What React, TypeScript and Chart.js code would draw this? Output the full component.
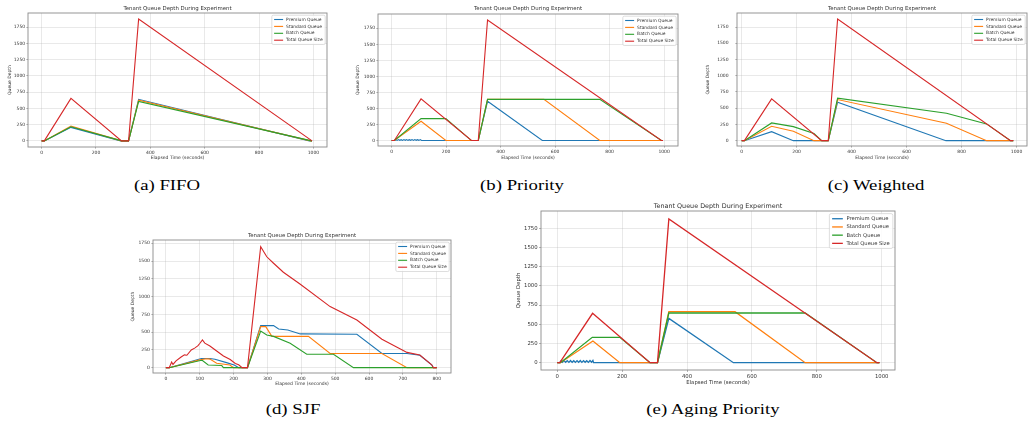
import React, { useEffect, useRef } from 'react';
import { Chart, registerables } from 'chart.js';

Chart.register(...registerables);

type Pt = [number, number];

// Shared labels and ticks
const seriesNames = ['Premium Queue', 'Standard Queue', 'Batch Queue', 'Total Queue Size'];
const seriesColors = ['#1f77b4', '#ff7f0e', '#2ca02c', '#d62728'];
const chartTitle = 'Tenant Queue Depth During Experiment';
const xAxisLabel = 'Elapsed Time (seconds)';
const yAxisLabel = 'Queue Depth';
const timeTicks1000 = [0, 200, 400, 600, 800, 1000];
const timeTicks800 = [0, 100, 200, 300, 400, 500, 600, 700, 800];
const depthTicks = [0, 250, 500, 750, 1000, 1250, 1500, 1750];

// (a) FIFO — [elapsed seconds, queue depth]
const fifoPremium: Pt[] = [[0, 0], [10, 0], [108, 208], [291, 0], [320, 0], [357, 640], [985, 0], [995, 0]];
const fifoStandard: Pt[] = [[0, 0], [10, 0], [108, 228], [294, 0], [320, 0], [357, 628], [990, 0], [995, 0]];
const fifoBatch: Pt[] = [[0, 0], [10, 0], [108, 218], [295, 0], [320, 0], [357, 608], [993, 0], [995, 0]];
const fifoTotal: Pt[] = [[0, 0], [10, 0], [108, 654], [294, 0], [320, 0], [357, 1876], [995, 0]];

// (b) Priority
const prioPremium: Pt[] = [
  [0, 0], [12, 0], [16, 15], [20, 3], [25, 16], [30, 4], [35, 14], [40, 2], [45, 15], [50, 4],
  [55, 16], [60, 3], [65, 14], [70, 4], [75, 15], [80, 3], [85, 16], [90, 4], [95, 14], [100, 3],
  [105, 15], [110, 0], [318, 0], [352, 612], [553, 0], [996, 0],
];
const prioStandard: Pt[] = [[0, 0], [10, 0], [108, 300], [199, 0], [318, 0], [352, 642], [559, 642], [764, 0], [996, 0]];
const prioBatch: Pt[] = [[0, 0], [10, 0], [108, 342], [199, 342], [293, 0], [318, 0], [352, 642], [764, 642], [990, 0], [996, 0]];
const prioTotal: Pt[] = [[0, 0], [10, 0], [108, 649], [293, 0], [318, 0], [352, 1880], [990, 0], [996, 0]];

// (c) Weighted
const wfqPremium: Pt[] = [[0, 0], [10, 0], [109, 139], [188, 0], [315, 0], [349, 592], [743, 0], [988, 0]];
const wfqStandard: Pt[] = [[0, 0], [10, 0], [109, 221], [188, 144], [263, 0], [315, 0], [349, 633], [745, 268], [891, 0], [988, 0]];
const wfqBatch: Pt[] = [[0, 0], [10, 0], [109, 273], [188, 216], [263, 110], [291, 0], [315, 0], [349, 654], [745, 422], [891, 258], [978, 0], [988, 0]];
const wfqTotal: Pt[] = [[0, 0], [10, 0], [109, 643], [291, 0], [315, 0], [349, 1873], [978, 0], [988, 0]];

// (d) SJF
const sjfPremium: Pt[] = [
  [0, 0], [10, 0], [105, 130], [130, 130], [145, 118], [179, 71], [202, 38], [215, 0], [241, 0],
  [280, 592], [318, 592], [333, 545], [360, 530], [397, 475], [564, 470], [638, 200], [712, 200],
  [750, 175], [785, 40], [790, 0], [800, 0],
];
const sjfStandard: Pt[] = [
  [0, 0], [10, 0], [100, 110], [120, 125], [130, 120], [150, 61], [189, 38], [200, 0], [241, 0],
  [280, 577], [295, 577], [313, 440], [421, 440], [485, 200], [638, 200], [712, 0], [800, 0],
];
const sjfBatch: Pt[] = [
  [0, 0], [10, 0], [105, 105], [108, 100], [125, 38], [165, 30], [170, 0], [241, 0],
  [280, 516], [298, 460], [318, 440], [367, 343], [416, 188], [495, 188], [554, 0], [800, 0],
];
const sjfTotal: Pt[] = [
  [0, 0], [10, 0], [17, 80], [21, 45], [30, 95], [45, 150], [55, 180], [62, 175], [75, 250], [85, 275],
  [95, 310], [100, 340], [108, 391], [115, 345], [130, 305], [150, 235], [170, 165], [190, 115], [205, 60],
  [215, 40], [225, 0], [241, 0], [280, 1703], [298, 1560], [318, 1469], [347, 1342], [397, 1173],
  [485, 859], [564, 670], [638, 400], [712, 215], [750, 178], [785, 40], [790, 0], [800, 0],
];

// (e) Aging Priority
const agePremium: Pt[] = [
  [0, 0], [8, 0], [12, 25], [16, 5], [21, 28], [26, 5], [31, 27], [36, 4], [41, 28], [46, 5],
  [51, 26], [56, 4], [61, 27], [66, 5], [71, 28], [76, 4], [81, 27], [86, 5], [91, 26], [96, 4],
  [101, 28], [106, 6], [110, 30], [112, 0], [309, 0], [344, 577], [543, 0], [993, 0],
];
const ageStandard: Pt[] = [[0, 0], [10, 0], [110, 282], [193, 0], [309, 0], [344, 664], [548, 664], [764, 0], [993, 0]];
const ageBatch: Pt[] = [[0, 0], [10, 0], [108, 330], [193, 330], [286, 0], [309, 0], [344, 647], [764, 647], [985, 0], [993, 0]];
const ageTotal: Pt[] = [[0, 0], [8, 0], [109, 643], [286, 0], [309, 0], [344, 1871], [985, 0], [993, 0]];

interface Panel {
  key: string;
  caption: string;
  captionX: number;
  captionBase: number;
  area: { l: number; t: number; r: number; b: number };
  s: number;
  xRange: [number, number];
  yRange: [number, number];
  xTicks: number[];
  series: Pt[][];
  yTitleOff: number;
  tickGap: number;
  titleOff: number;
  xTitleOff: number;
}

const panels: Panel[] = [
  {
    key: 'a', caption: '(a) FIFO', captionX: 167, captionBase: 190.5,
    area: { l: 28, t: 13, r: 327, b: 147 }, s: 1, xRange: [-50, 1050], yRange: [-94, 1969],
    xTicks: timeTicks1000, series: [fifoPremium, fifoStandard, fifoBatch, fifoTotal],
    yTitleOff: 18, tickGap: 1.2, titleOff: 4.7, xTitleOff: 11.3,
  },
  {
    key: 'b', caption: '(b) Priority', captionX: 522, captionBase: 190.5,
    area: { l: 378, t: 14, r: 678, b: 146 }, s: 1, xRange: [-50, 1051], yRange: [-85, 1973],
    xTicks: timeTicks1000, series: [prioPremium, prioStandard, prioBatch, prioTotal],
    yTitleOff: 20, tickGap: 1.2, titleOff: 5.7, xTitleOff: 12.3,
  },
  {
    key: 'c', caption: '(c) Weighted', captionX: 876, captionBase: 190.5,
    area: { l: 737, t: 13, r: 1027, b: 146 }, s: 1, xRange: [-17, 1038], yRange: [-82, 1966],
    xTicks: timeTicks1000, series: [wfqPremium, wfqStandard, wfqBatch, wfqTotal],
    yTitleOff: 28.7, tickGap: 6.8, titleOff: 4.7, xTitleOff: 12.3,
  },
  {
    key: 'd', caption: '(d) SJF', captionX: 293, captionBase: 415,
    area: { l: 153, t: 240, r: 451, b: 373 }, s: 1, xRange: [-38, 842], yRange: [-75, 1796],
    xTicks: timeTicks800, series: [sjfPremium, sjfStandard, sjfBatch, sjfTotal],
    yTitleOff: 20.3, tickGap: 1.5, titleOff: 4.3, xTitleOff: 11,
  },
  {
    key: 'e', caption: '(e) Aging Priority', captionX: 713, captionBase: 415,
    area: { l: 541, t: 211, r: 895, b: 370 }, s: 1.19, xRange: [-50, 1041], yRange: [-95, 1975],
    xTicks: timeTicks1000, series: [agePremium, ageStandard, ageBatch, ageTotal],
    yTitleOff: 22.7, tickGap: 1.2, titleOff: 5, xTitleOff: 13,
  },
];

const FONT = 'DejaVu Sans';
const TEXT = '#333333';
const SPINE = '#8a8a8a';

function QueueChart({ p }: { p: Panel }) {
  const ref = useRef<HTMLCanvasElement>(null);
  const s = p.s;
  const PL = Math.round(40 * s);
  const PR = Math.round(10 * s);
  const PT = Math.round(12 * s);
  const PB = Math.round(18 * s);
  const w = p.area.r - p.area.l;
  const h = p.area.b - p.area.t;
  const cw = w + PL + PR;
  const ch = h + PT + PB;

  useEffect(() => {
    if (!ref.current) return;
    const tickFont = { family: FONT, size: 4.5 * s };
    const gridColor = 'rgba(176,176,176,0.35)';

    const decor = {
      id: 'decor',
      afterDraw(chart: any) {
        const { ctx, chartArea: a } = chart;
        ctx.save();
        // plot frame
        ctx.strokeStyle = SPINE;
        ctx.lineWidth = 0.9;
        ctx.strokeRect(a.left, a.top, a.right - a.left, a.bottom - a.top);

        ctx.fillStyle = TEXT;
        ctx.textAlign = 'center';
        ctx.textBaseline = 'middle';
        const cx = (a.left + a.right) / 2;
        ctx.font = `${5.4 * s}px ${FONT}`;
        ctx.fillText(chartTitle, cx, a.top - p.titleOff);
        ctx.font = `${4.5 * s}px ${FONT}`;
        ctx.fillText(xAxisLabel, cx, a.bottom + p.xTitleOff);
        ctx.save();
        ctx.translate(a.left - p.yTitleOff, (a.top + a.bottom) / 2);
        ctx.rotate(-Math.PI / 2);
        ctx.fillText(yAxisLabel, 0, 0);
        ctx.restore();

        // legend
        ctx.font = `${4.4 * s}px ${FONT}`;
        const maxW = Math.max(...seriesNames.map((n) => ctx.measureText(n).width));
        const bw = 14.3 * s + maxW + 2.6 * s;
        const rowH = 6.9 * s;
        const edge = 4.3 * s;
        const bh = edge * 2 + rowH * 3;
        const bx = a.right - 1.8 * s - bw;
        const by = a.top + 2.2 * s;
        ctx.beginPath();
        ctx.roundRect(bx, by, bw, bh, 1.5 * s);
        ctx.fillStyle = 'rgba(255,255,255,0.85)';
        ctx.fill();
        ctx.strokeStyle = '#d0d0d0';
        ctx.lineWidth = 0.7;
        ctx.stroke();
        ctx.textAlign = 'left';
        seriesNames.forEach((name, i) => {
          const y = by + edge + rowH * i;
          ctx.strokeStyle = seriesColors[i];
          ctx.lineWidth = 1.1 * s;
          ctx.beginPath();
          ctx.moveTo(bx + 2.3 * s, y);
          ctx.lineTo(bx + 11.3 * s, y);
          ctx.stroke();
          ctx.fillStyle = TEXT;
          ctx.fillText(name, bx + 14.3 * s, y);
        });
        ctx.restore();
      },
    };

    const chart = new Chart(ref.current, {
      type: 'line',
      data: {
        datasets: p.series.map((pts, i) => ({
          label: seriesNames[i],
          data: pts.map(([x, y]) => ({ x, y })),
          borderColor: seriesColors[i],
          backgroundColor: seriesColors[i],
          borderWidth: 1.1 * s,
          pointRadius: 0,
          tension: 0,
          fill: false,
          order: 3 - i,
        })),
      },
      options: {
        responsive: false,
        animation: false,
        devicePixelRatio: 1,
        layout: { padding: { left: 0, right: PR, top: PT, bottom: 0 } },
        plugins: {
          legend: { display: false },
          title: { display: false },
          tooltip: { enabled: false },
        },
        scales: {
          x: {
            type: 'linear',
            min: p.xRange[0],
            max: p.xRange[1],
            afterFit: (sc: any) => { sc.height = PB; },
            afterBuildTicks: (sc: any) => { sc.ticks = p.xTicks.map((v) => ({ value: v })); },
            ticks: {
              font: tickFont,
              color: TEXT,
              padding: 1.2 * s,
              maxRotation: 0,
              autoSkip: false,
              callback: (v: any) => String(v),
            },
            grid: { color: gridColor, lineWidth: 0.8, tickLength: 1.6 * s, tickColor: SPINE, tickWidth: 0.7 },
            border: { display: false },
          },
          y: {
            type: 'linear',
            min: p.yRange[0],
            max: p.yRange[1],
            afterFit: (sc: any) => { sc.width = PL; },
            afterBuildTicks: (sc: any) => { sc.ticks = depthTicks.map((v) => ({ value: v })); },
            ticks: {
              font: tickFont,
              color: TEXT,
              padding: p.tickGap * s,
              autoSkip: false,
              callback: (v: any) => String(v),
            },
            grid: { color: gridColor, lineWidth: 0.8, tickLength: 1.6 * s, tickColor: SPINE, tickWidth: 0.7 },
            border: { display: false },
          },
        },
      } as any,
      plugins: [decor],
    });
    return () => chart.destroy();
  }, [p]);

  return (
    <canvas
      ref={ref}
      width={cw}
      height={ch}
      style={{ position: 'absolute', left: p.area.l - PL, top: p.area.t - PT, width: cw, height: ch }}
    />
  );
}

export default function App() {
  return (
    <div style={{ position: 'absolute', left: 0, top: 0, width: 1034, height: 429, background: '#ffffff', overflow: 'hidden' }}>
      {panels.map((p) => (
        <React.Fragment key={p.key}>
          <QueueChart p={p} />
          <div
            style={{
              position: 'absolute',
              left: p.captionX,
              top: p.captionBase - 12.6,
              fontFamily: '"Liberation Serif", serif',
              fontSize: 15,
              lineHeight: '15px',
              color: '#000',
              whiteSpace: 'nowrap',
              transform: 'translateX(-50%) scaleX(1.25)',
            }}
          >
            {p.caption}
          </div>
        </React.Fragment>
      ))}
    </div>
  );
}
